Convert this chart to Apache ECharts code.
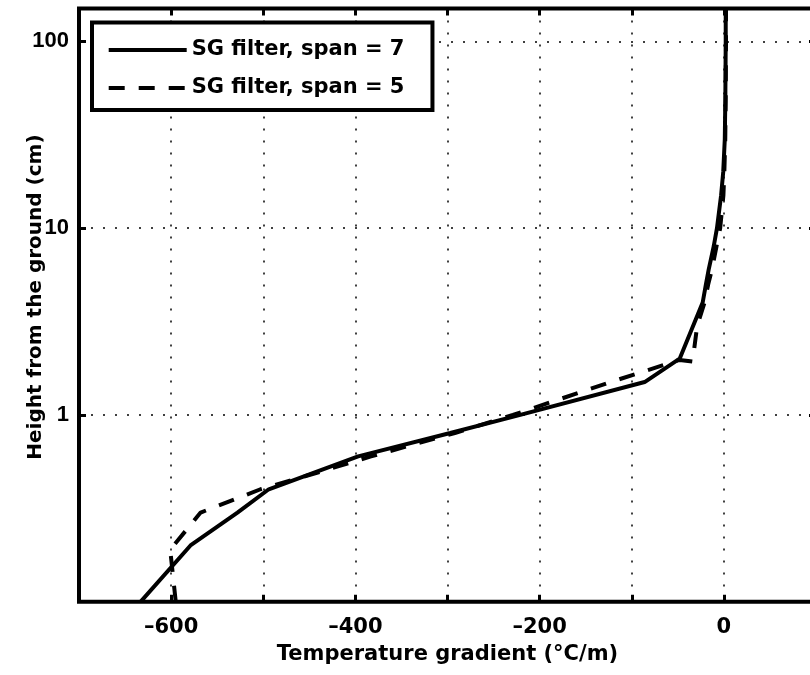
<!DOCTYPE html>
<html>
<head>
<meta charset="utf-8">
<script src="https://cdn.jsdelivr.net/npm/echarts@6/dist/echarts.min.js"></script>
<style>
  html, body { margin: 0; padding: 0; background: #fff; }
  #chart { width: 810px; height: 675px; }
</style>
</head>
<body>
<div id="chart"></div>
<script>
// ---- Data ----
const seriesNames = ['SG filter, span = 7', 'SG filter, span = 5'];

// span = 7 (solid)
const heightsSpan7 = [0.1, 0.2, 0.3, 0.4, 0.6, 0.8, 1.0, 1.5, 2, 4, 5, 6, 8, 10, 15, 20, 30, 50, 100, 150];
const gradSpan7    = [-633, -579, -528, -494, -397, -297, -221, -86, -48, -23, -19.5, -16.5, -11, -7.5, -3, -0.7, 1, 1.6, 2, 2];

// span = 5 (dashed)
const heightsSpan5 = [0.1, 0.19, 0.3, 0.4, 0.5, 0.6, 0.8, 1.0, 1.5, 1.97, 1.93, 3, 4, 5, 6, 8, 10, 15, 20, 30, 50, 100, 150];
const gradSpan5    = [-595, -601, -568, -503, -436, -383, -292, -229, -123, -48, -34, -29, -21, -17, -13, -8, -4, -0.5, 0.5, 1.5, 2, 2.3, 2.3];

// Tick labels
const xTickValues = [-600, -400, -200, 0];
const xTickLabels = ['\u2013600', '\u2013400', '\u2013200', '0'];
const yTickValues = [1, 10, 100];
const yTickLabels = ['1', '10', '100'];

const xAxisTitle = 'Temperature gradient (\u00B0C/m)';
const yAxisTitle = 'Height from the ground (cm)';

// ---- Chart ----
const FONT = 'DejaVu Sans';
const FONT_Y = 'Liberation Sans';
const pairs = (xs, ys) => xs.map((x, i) => [x, ys[i]]);

const gridDots = { color: '#000', width: 1.5, type: [2, 10] };
const tickStyle = { color: '#000', width: 3 };

function xLabel(v) {
  for (let i = 0; i < xTickValues.length; i++) {
    if (Math.abs(v - xTickValues[i]) < 1e-6) return xTickLabels[i];
  }
  return '';
}
function yLabel(v) {
  for (let i = 0; i < yTickValues.length; i++) {
    if (Math.abs(v - yTickValues[i]) < 1e-6 * yTickValues[i]) return yTickLabels[i];
  }
  return '';
}

const chart = echarts.init(document.getElementById('chart'), null, { renderer: 'canvas' });
chart.setOption({
  animation: false,
  backgroundColor: '#fff',
  grid: {
    left: 79, right: -6, top: 8.5, bottom: 73.3,
    show: true, borderColor: '#000', borderWidth: 4, backgroundColor: 'transparent',
    containLabel: false, outerBoundsMode: 'none'
  },
  legend: {
    orient: 'vertical', left: 92, top: 22.5,
    padding: [15.5, 28, 10, 14.7],
    itemWidth: 78, itemHeight: 14, itemGap: 14,
    backgroundColor: '#fff', borderColor: '#000', borderWidth: 4,
    itemStyle: { opacity: 0 },
    lineStyle: { width: 4 },
    textStyle: { fontFamily: FONT, fontWeight: 'bold', fontSize: 21, color: '#000', lineHeight: 24 },
    data: seriesNames
  },
  xAxis: [{
    type: 'value', min: -700, max: 100, interval: 100,
    axisLine: { show: false, onZero: false },
    axisTick: { show: true, inside: true, length: 7, lineStyle: tickStyle },
    axisLabel: { formatter: xLabel, fontFamily: FONT, fontWeight: 'bold', fontSize: 21, color: '#000', margin: 15 },
    splitLine: { show: true, showMinLine: false, showMaxLine: false, lineStyle: gridDots },
    name: xAxisTitle, nameLocation: 'middle', nameGap: 42, nameMoveOverlap: false,
    nameTextStyle: { fontFamily: FONT, fontWeight: 'bold', fontSize: 21, color: '#000' }
  }, {
    type: 'value', min: -700, max: 100, interval: 100, position: 'top',
    axisLine: { show: false, onZero: false },
    axisTick: { show: true, inside: true, length: 7, lineStyle: tickStyle },
    axisLabel: { show: false }, splitLine: { show: false }
  }],
  yAxis: [{
    type: 'log', logBase: 10, min: 0.1, max: 150,
    axisLine: { show: false, onZero: false },
    axisTick: { show: true, inside: true, length: 7, lineStyle: tickStyle },
    minorTick: { show: false },
    axisLabel: { formatter: yLabel, fontFamily: FONT_Y, fontWeight: 'bold', fontSize: 22, color: '#000', margin: 10 },
    splitLine: { show: true, showMinLine: false, showMaxLine: false, lineStyle: gridDots },
    name: yAxisTitle, nameLocation: 'middle', nameGap: 33, nameRotate: 90, nameMoveOverlap: false,
    nameTextStyle: { fontFamily: FONT, fontWeight: 'bold', fontSize: 20, color: '#000', padding: [0, 0, 0, 16] }
  }, {
    type: 'log', logBase: 10, min: 0.1, max: 150, position: 'right',
    axisLine: { show: false, onZero: false },
    axisTick: { show: true, inside: true, length: 7, lineStyle: tickStyle },
    axisLabel: { show: false }, splitLine: { show: false }
  }],
  series: [{
    name: seriesNames[0], type: 'line', xAxisIndex: 0, yAxisIndex: 0,
    symbol: 'none', showSymbol: false,
    lineStyle: { color: '#000', width: 4, type: 'solid' },
    itemStyle: { color: '#000' },
    data: pairs(gradSpan7, heightsSpan7)
  }, {
    name: seriesNames[1], type: 'line', xAxisIndex: 0, yAxisIndex: 0,
    symbol: 'none', showSymbol: false,
    lineStyle: { color: '#000', width: 4, type: [16, 14] },
    itemStyle: { color: '#000' },
    data: pairs(gradSpan5, heightsSpan5)
  }]
});
</script>
</body>
</html>
